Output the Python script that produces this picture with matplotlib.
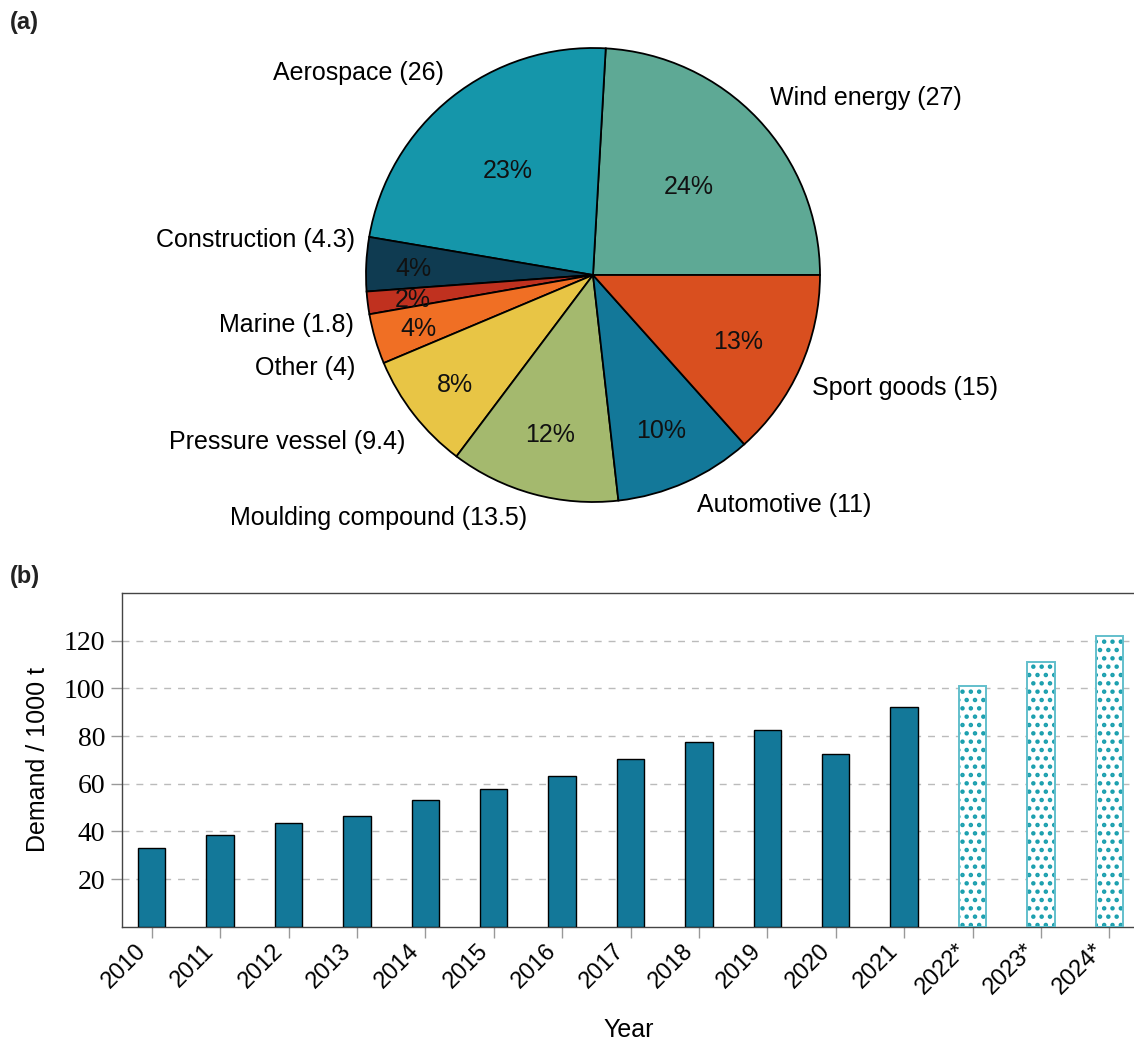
import numpy as np
import matplotlib
matplotlib.use("Agg")
import matplotlib.pyplot as plt
from matplotlib.transforms import ScaledTranslation, blended_transform_factory

# ---------------- data ----------------
sectors = ["Wind energy", "Aerospace", "Construction", "Marine", "Other",
           "Pressure vessel", "Moulding compound", "Automotive", "Sport goods"]
sector_values = [27, 26, 4.3, 1.8, 4, 9.4, 13.5, 11, 15]
sector_value_text = ["27", "26", "4.3", "1.8", "4", "9.4", "13.5", "11", "15"]

years = ["2010", "2011", "2012", "2013", "2014", "2015", "2016", "2017",
         "2018", "2019", "2020", "2021", "2022*", "2023*", "2024*"]
demand = [33, 38.4, 43.4, 46.4, 53, 57.9, 63.4, 70.5, 77.5, 82.4, 72.6, 92.1,
          101, 111, 122]
is_forecast = [False] * 12 + [True] * 3

# ---------------- style ----------------
pie_colors = ["#5ea995", "#1596aa", "#0f3b51", "#c0311f", "#f06f24",
              "#e8c545", "#a4b96e", "#137899", "#d94f1f"]
pct_dist = [0.58, 0.60, 0.79, 0.80, 0.80, 0.77, 0.72, 0.74, 0.70]
label_shift = [(-0.02, 0.026), (0.03, 0.03), (0.05, 0.10), (0.04, -0.085),
               (0.01, -0.10), (0.04, -0.06), (0.0, -0.01), (0.01, -0.01),
               (-0.04, -0.05)]
bar_color = "#137899"
fc_edge = "#62bfcc"
fc_dot = "#1a9fae"

SANS = ["Liberation Sans", "DejaVu Sans"]
SERIF = ["Liberation Serif", "DejaVu Serif"]
plt.rcParams["font.family"] = SANS
plt.rcParams["hatch.linewidth"] = 2.0

W, H = 1134, 1041
fig = plt.figure(figsize=(W / 100, H / 100), dpi=100)

# ---------------- (a) pie ----------------
cx, cy, R = 593, 275, 227
half = 250
axp = fig.add_axes([(cx - half) / W, 1 - (cy + half) / H, 2 * half / W, 2 * half / H])
axp.axis("off")

labels = [f"{s} ({v})" for s, v in zip(sectors, sector_value_text)]
wedges, texts = axp.pie(sector_values, colors=pie_colors, startangle=0,
                        counterclock=True, radius=1.0, labels=labels,
                        labeldistance=1.1,
                        wedgeprops=dict(edgecolor="black", linewidth=1.3),
                        textprops=dict(fontsize=18, color="black"))
axp.set_xlim(-half / R, half / R)
axp.set_ylim(-half / R, half / R)
axp.set_aspect("equal")
for t, (dx, dy) in zip(texts, label_shift):
    x, y = t.get_position()
    t.set_position((x + dx, y + dy))

total = sum(sector_values)
for w, v, d in zip(wedges, sector_values, pct_dist):
    ang = np.deg2rad((w.theta1 + w.theta2) / 2)
    axp.text(d * np.cos(ang), d * np.sin(ang), f"{round(100 * v / total):d}%",
             ha="center", va="center_baseline", fontsize=18, color="#111111")

fig.text(10 / W, 1 - 22 / H, "(a)", fontsize=17, fontweight="bold",
         ha="left", va="center", color="#222222")
fig.text(10 / W, 1 - 577 / H, "(b)", fontsize=17, fontweight="bold",
         ha="left", va="center", color="#222222")

# ---------------- (b) bars ----------------
x0_px, unit_px = 151.7, 68.4
pad = (x0_px - 122) / unit_px
xmin, xmax = -pad, len(years) - 1 + pad
ax_w = (xmax - xmin) * unit_px
axb = fig.add_axes([122 / W, 1 - 926.7 / H, ax_w / W, (926.7 - 593) / H])
x = np.arange(len(years))
for xi, v, fc in zip(x, demand, is_forecast):
    if not fc:
        axb.bar(xi, v, width=0.4, color=bar_color, edgecolor="black",
                linewidth=1.0, zorder=3)
    else:
        axb.bar(xi, v, width=0.4, facecolor="white", edgecolor=fc_dot,
                hatch="..", linewidth=0, zorder=3)
        axb.bar(xi, v, width=0.4, facecolor="none", edgecolor=fc_edge,
                linewidth=1.4, zorder=4)

axb.set_xlim(xmin, xmax)
axb.set_ylim(0, 140)
axb.set_yticks([20, 40, 60, 80, 100, 120])
axb.set_xticks(x)
axb.set_xticklabels([""] * len(years))
lab_tr = blended_transform_factory(axb.transData, axb.transAxes) + \
    ScaledTranslation(-17 / 100, -13 / 100, fig.dpi_scale_trans)
for xi, yr in zip(x, years):
    axb.text(xi, 0, yr, transform=lab_tr, rotation=45, ha="right", va="top",
             rotation_mode="anchor", fontsize=17, clip_on=False)
for lab in axb.get_yticklabels():
    lab.set_fontfamily(SERIF)
    lab.set_fontsize(20)
axb.tick_params(axis="both", direction="out", length=8, width=1.0,
                color="#999999", pad=4)
axb.grid(axis="y", linestyle=(0, (5, 5)), color="#bbbbbb", linewidth=1.0,
         zorder=0)
axb.set_axisbelow(True)
for sp in axb.spines.values():
    sp.set_color("#444444")
    sp.set_linewidth(1.0)
axb.set_ylabel("Demand / 1000 t", fontsize=18, labelpad=10)
axb.set_xlabel("Year", fontsize=18)
axb.xaxis.set_label_coords(0.4985, (926.7 - 1018) / (926.7 - 593))

fig.savefig("out.png", dpi=100)
